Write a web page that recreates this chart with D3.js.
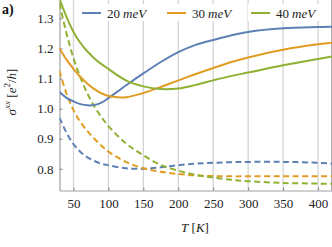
<!DOCTYPE html>
<html>
<head>
<meta charset="utf-8">
<script src="https://cdn.jsdelivr.net/npm/d3@7"></script>
<style>
  html, body { margin: 0; padding: 0; background: #fff; }
  svg { display: block; }
  svg text { font-family: "Liberation Serif", "DejaVu Serif", serif; }
</style>
</head>
<body>
<div id="chart"></div>
<script>
// temperatures (K)
var temps = [30, 40, 50, 60, 70, 80, 90, 100, 125, 150, 175, 200, 225, 250, 275, 300, 350, 400, 420];

// solid lines
var solid20 = [1.055, 1.036, 1.024, 1.015, 1.011, 1.012, 1.02, 1.035, 1.077, 1.117, 1.155, 1.188, 1.212, 1.228, 1.243, 1.255, 1.267, 1.271, 1.272];
var solid30 = [1.20, 1.163, 1.132, 1.105, 1.083, 1.065, 1.051, 1.042, 1.038, 1.052, 1.072, 1.094, 1.115, 1.135, 1.154, 1.17, 1.196, 1.214, 1.219];
var solid40 = [1.365, 1.305, 1.255, 1.218, 1.19, 1.167, 1.148, 1.132, 1.094, 1.074, 1.065, 1.067, 1.079, 1.094, 1.108, 1.12, 1.144, 1.165, 1.173];

// dashed lines
var dashed20 = [0.97, 0.92, 0.882, 0.856, 0.838, 0.826, 0.817, 0.812, 0.802, 0.800, 0.805, 0.812, 0.817, 0.82, 0.822, 0.823, 0.823, 0.82, 0.817];
var dashed30 = [1.125, 1.05, 0.995, 0.955, 0.925, 0.9, 0.877, 0.857, 0.823, 0.802, 0.79, 0.783, 0.778, 0.776, 0.775, 0.775, 0.775, 0.775, 0.775];
var dashed40 = [1.35, 1.25, 1.168, 1.103, 1.05, 1.007, 0.972, 0.942, 0.885, 0.845, 0.813, 0.794, 0.78, 0.771, 0.764, 0.759, 0.753, 0.751, 0.750];

var labels = ["20", "30", "40"];
var colors = ["#5e81b5", "#e19c24", "#8fb032"];
var xTicks = [50, 100, 150, 200, 250, 300, 350, 400];
var yTicks = [0.8, 0.9, 1.0, 1.1, 1.2, 1.3];

var width = 332, height = 247;
var mLeft = 59.5, mRight = 332, mTop = 0, mBottom = 190.5;

var svg = d3.select("#chart").append("svg")
    .attr("width", width)
    .attr("height", height);

var x = d3.scaleLinear().domain([30, 420]).range([mLeft, mRight]);
var y = d3.scaleLinear().domain([0.728, 1.361]).range([mBottom, mTop]);

svg.append("clipPath").attr("id", "clip")
  .append("rect")
    .attr("x", mLeft).attr("y", mTop)
    .attr("width", mRight - mLeft).attr("height", mBottom - mTop);

// vertical grid
svg.append("g").selectAll("line")
  .data(xTicks).enter().append("line")
    .attr("x1", function (d) { return x(d); })
    .attr("x2", function (d) { return x(d); })
    .attr("y1", mTop).attr("y2", mBottom)
    .attr("stroke", "#d4d4d4")
    .attr("stroke-width", 1.3);

// axes
var xAxis = svg.append("g")
    .attr("transform", "translate(0," + mBottom + ")")
    .call(d3.axisBottom(x).tickValues(xTicks).tickSizeInner(-3).tickSizeOuter(0).tickPadding(8));
var yAxis = svg.append("g")
    .attr("transform", "translate(" + mLeft + ",0)")
    .call(d3.axisLeft(y).tickValues(yTicks).tickFormat(d3.format(".1f")).tickSizeInner(-3).tickSizeOuter(0).tickPadding(6));

[xAxis, yAxis].forEach(function (a) {
  a.attr("font-family", null);
  a.select(".domain").attr("stroke", "#a0a0a0").attr("stroke-width", 1.2);
  a.selectAll(".tick line").attr("stroke", "#808080");
  a.selectAll("text")
    .attr("fill", "#222")
    .style("font-size", "13px");
});

// right edge
svg.append("line")
    .attr("x1", 331.5).attr("x2", 331.5)
    .attr("y1", mTop).attr("y2", mBottom)
    .attr("stroke", "#b0b0b0").attr("stroke-width", 1);

var line = d3.line()
    .x(function (d) { return x(d[0]); })
    .y(function (d) { return y(d[1]); })
    .curve(d3.curveCatmullRom.alpha(0.5));

var solids = [solid20, solid30, solid40];
var dasheds = [dashed20, dashed30, dashed40];

var plot = svg.append("g").attr("clip-path", "url(#clip)");

dasheds.forEach(function (vals, i) {
  plot.append("path")
    .datum(temps.map(function (t, j) { return [t, vals[j]]; }))
    .attr("d", line)
    .attr("fill", "none")
    .attr("stroke", colors[i])
    .attr("stroke-width", 2)
    .attr("stroke-dasharray", "6,3.5");
});

solids.forEach(function (vals, i) {
  plot.append("path")
    .datum(temps.map(function (t, j) { return [t, vals[j]]; }))
    .attr("d", line)
    .attr("fill", "none")
    .attr("stroke", colors[i])
    .attr("stroke-width", 2);
});

// legend
var legendX = [82, 167, 251];
var legend = svg.append("g");
labels.forEach(function (lab, i) {
  var g = legend.append("g").attr("transform", "translate(" + legendX[i] + ",13)");
  g.append("rect").attr("x", -3).attr("y", -9).attr("width", 78).attr("height", 17).attr("fill", "#fff");
  g.append("line")
    .attr("x1", 0).attr("x2", 19).attr("y1", 0).attr("y2", 0)
    .attr("stroke", colors[i]).attr("stroke-width", 2);
  var t = g.append("text")
    .attr("x", 25).attr("y", 5)
    .style("font-size", "13px")
    .attr("fill", "#222");
  t.append("tspan").text(lab);
  t.append("tspan").attr("dx", 3).style("font-style", "italic").text("meV");
});

// panel label
svg.append("text")
    .attr("x", 2).attr("y", 14)
    .style("font-size", "14px")
    .style("font-weight", "bold")
    .attr("fill", "#111")
    .text("a)");

// y label
var yl = svg.append("text")
    .attr("transform", "translate(16,92) rotate(-90)")
    .attr("text-anchor", "middle")
    .style("font-size", "13px")
    .attr("fill", "#222");
yl.append("tspan").style("font-style", "italic").text("σ");
yl.append("tspan").style("font-style", "italic").style("font-size", "9px").attr("dy", -6).text("xx");
yl.append("tspan").attr("dy", 6).text(" [");
yl.append("tspan").style("font-style", "italic").text("e");
yl.append("tspan").style("font-size", "9px").attr("dy", -6).text("2");
yl.append("tspan").attr("dy", 6).text("/");
yl.append("tspan").style("font-style", "italic").text("h");
yl.append("tspan").text("]");

// x label
var xl = svg.append("text")
    .attr("x", 195).attr("y", 232)
    .attr("text-anchor", "middle")
    .style("font-size", "13px")
    .attr("fill", "#222");
xl.append("tspan").style("font-style", "italic").text("T");
xl.append("tspan").text(" [");
xl.append("tspan").style("font-style", "italic").text("K");
xl.append("tspan").text("]");
</script>
</body>
</html>
